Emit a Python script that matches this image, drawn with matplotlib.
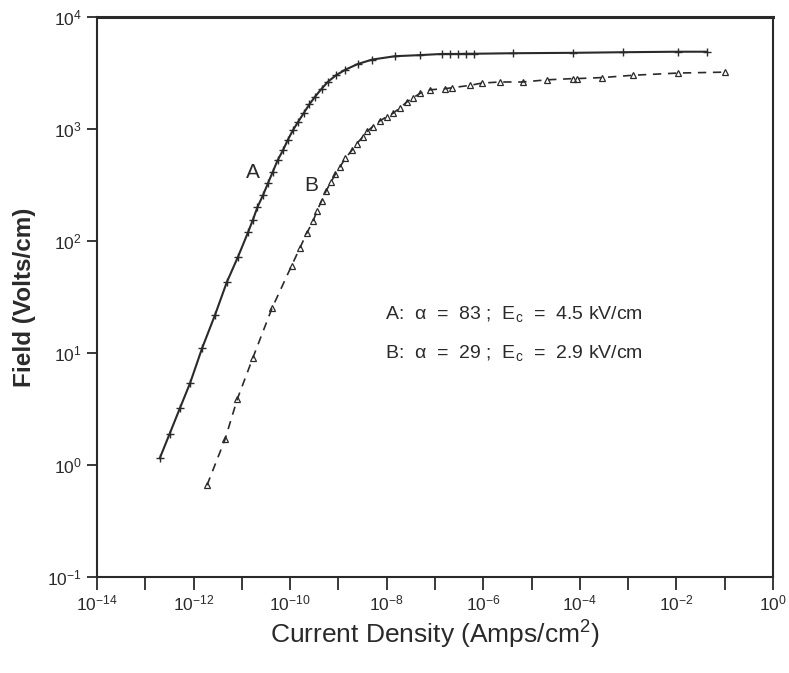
import numpy as np
import matplotlib as mpl
mpl.use("Agg")
import matplotlib.pyplot as plt
from matplotlib.ticker import FixedLocator, FuncFormatter, NullLocator

mpl.rcParams["font.family"] = ["Liberation Sans", "DejaVu Sans"]
mpl.rcParams["mathtext.fontset"] = "custom"
mpl.rcParams["mathtext.rm"] = "Liberation Sans"
mpl.rcParams["mathtext.it"] = "Liberation Sans:italic"
mpl.rcParams["mathtext.bf"] = "Liberation Sans:bold"

# curve A: current density (A/cm^2) and field (V/cm)
j_a = [2.0e-13, 3.2e-13, 5.2e-13, 8.5e-13, 1.5e-12, 2.8e-12, 4.9e-12, 8.3e-12,
       1.35e-11, 1.7e-11, 2.1e-11, 2.75e-11, 3.5e-11, 4.4e-11, 5.5e-11, 7.1e-11,
       8.9e-11, 1.15e-10, 1.45e-10, 1.9e-10, 2.5e-10, 3.3e-10, 4.5e-10, 6.0e-10,
       8.9e-10, 1.4e-9, 2.5e-9, 5.0e-9, 1.5e-8, 4.9e-8, 1.4e-7, 2.0e-7, 3.0e-7,
       4.4e-7, 6.5e-7, 4.1e-6, 7.2e-5, 7.8e-4, 1.1e-2, 4.3e-2]
e_a = [1.15, 1.9, 3.2, 5.4, 11, 22, 43, 72,
       120, 155, 200, 257, 330, 417, 525, 645,
       795, 980, 1150, 1380, 1660, 1950, 2290, 2630,
       3020, 3390, 3800, 4170, 4470, 4570, 4680, 4680, 4680,
       4700, 4700, 4750, 4790, 4850, 4900, 4900]

# curve B
j_b = [1.9e-12, 4.5e-12, 8.1e-12, 1.7e-11, 4.2e-11, 1.07e-10, 1.6e-10, 2.2e-10,
       3.0e-10, 3.6e-10, 4.5e-10, 5.6e-10, 7.1e-10, 8.7e-10, 1.07e-9, 1.4e-9,
       1.9e-9, 2.4e-9, 3.2e-9, 4.0e-9, 5.1e-9, 7.1e-9, 1.0e-8, 1.35e-8,
       1.9e-8, 2.6e-8, 3.5e-8, 5.0e-8, 7.8e-8, 1.6e-7, 2.3e-7, 5.2e-7,
       9.3e-7, 2.2e-6, 6.6e-6, 2.1e-5, 7.2e-5, 8.7e-5, 2.9e-4, 1.26e-3,
       1.07e-2, 1.0e-1]
e_b = [0.66, 1.7, 3.9, 9.1, 25, 60, 87, 117,
       151, 186, 229, 282, 339, 398, 457, 550,
       645, 741, 851, 955, 1050, 1175, 1290, 1380,
       1550, 1740, 1900, 2090, 2240, 2290, 2340, 2450,
       2570, 2630, 2630, 2750, 2820, 2820, 2880, 3020,
       3160, 3220]

x_decades = np.arange(-14, 1)
y_decades = np.arange(-1, 5)
ink = "#2a2a2a"

fig = plt.figure(figsize=(7.89, 6.73), dpi=100)
ax = fig.add_axes([0.1229, 0.1427, 0.8568, 0.832])

ax.plot(j_a, e_a, "-", color=ink, linewidth=1.5, marker="+",
        markersize=6, markeredgewidth=1.0)
ax.plot(j_b, e_b, color=ink, linewidth=1.2, linestyle=(0, (5, 4)),
        marker="^", markersize=5, markerfacecolor="none", markeredgewidth=0.9)

ax.set_xscale("log")
ax.set_yscale("log")
ax.set_xlim(1e-14, 1e0)
ax.set_ylim(1e-1, 1e4)

ax.xaxis.set_major_locator(FixedLocator(10.0 ** x_decades))
ax.xaxis.set_minor_locator(NullLocator())
ax.yaxis.set_major_locator(FixedLocator(10.0 ** y_decades))
ax.yaxis.set_minor_locator(NullLocator())


def x_fmt(v, pos):
    e = int(round(np.log10(v)))
    return r"$10^{%d}$" % e if e % 2 == 0 else ""


def y_fmt(v, pos):
    return r"$10^{%d}$" % int(round(np.log10(v)))


ax.xaxis.set_major_formatter(FuncFormatter(x_fmt))
ax.yaxis.set_major_formatter(FuncFormatter(y_fmt))

ax.tick_params(axis="x", direction="out", length=9, width=1.3, colors=ink,
               labelsize=12.5, pad=3)
ax.tick_params(axis="y", direction="out", length=7, width=1.3, colors=ink,
               labelsize=12.5, pad=4)
for s in ax.spines.values():
    s.set_linewidth(1.5)
    s.set_color(ink)
ax.spines["top"].set_linewidth(2.2)

ax.set_xlabel("Current Density (Amps/cm$^2$)", fontsize=19, color=ink,
              labelpad=4)
ax.set_ylabel("Field (Volts/cm)", fontsize=17.5, color=ink, labelpad=8,
              fontweight="bold")

ax.text(1.7e-11, 410, "A", fontsize=15, color=ink, ha="center", va="center")
ax.text(2.8e-10, 316, "B", fontsize=15, color=ink, ha="center", va="center")

ax.text(9.1e-9, 22.4, "A:  \u03b1  =  83 ;  E$_\\mathrm{c}$  =  4.5 kV/cm",
        fontsize=14, color=ink, ha="left", va="center")
ax.text(9.1e-9, 10.0, "B:  \u03b1  =  29 ;  E$_\\mathrm{c}$  =  2.9 kV/cm",
        fontsize=14, color=ink, ha="left", va="center")

fig.savefig("out.png", dpi=100)
